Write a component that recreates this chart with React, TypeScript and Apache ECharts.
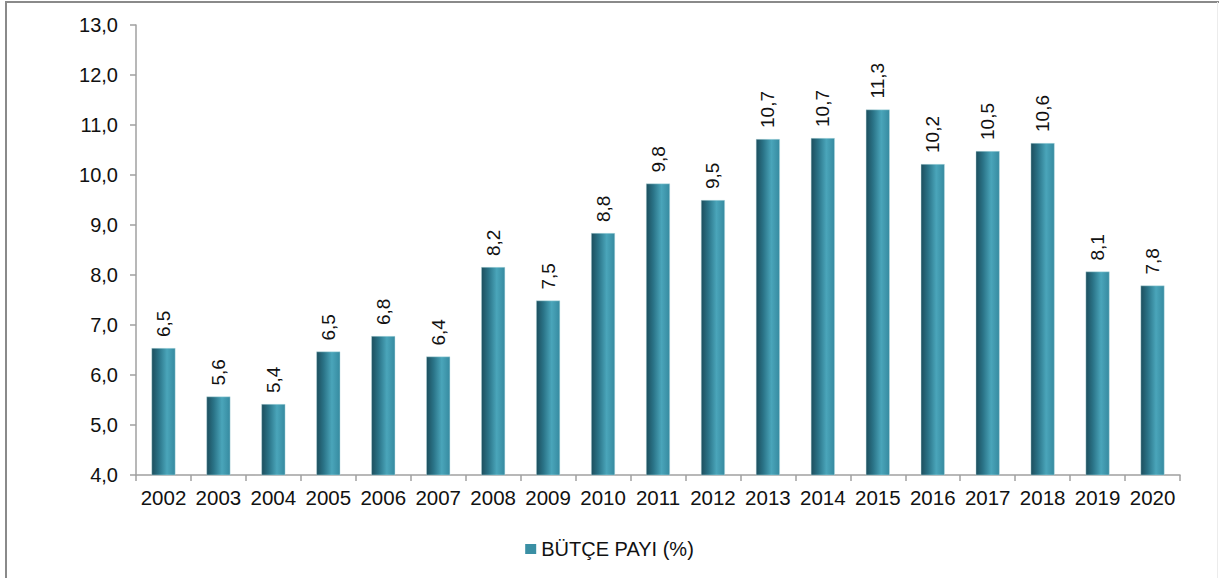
import React, { useEffect, useRef } from "react";
import * as echarts from "echarts";

const years = ["2002","2003","2004","2005","2006","2007","2008","2009","2010","2011","2012","2013","2014","2015","2016","2017","2018","2019","2020"];
const budgetShare = [6.54, 5.57, 5.42, 6.47, 6.78, 6.37, 8.16, 7.49, 8.84, 9.83, 9.5, 10.72, 10.74, 11.31, 10.22, 10.48, 10.64, 8.07, 7.79];
const seriesName = "BÜTÇE PAYI (%)";
const yMin = 4;
const yMax = 13;
const yStep = 1;

const fmt = (v: number) => v.toFixed(1).replace(".", ",");

export default function App() {
  const ref = useRef<HTMLDivElement>(null);
  useEffect(() => {
    if (!ref.current) return;
    const chart = echarts.init(ref.current, undefined, { renderer: "svg" });
    const font = "'Liberation Sans', Arial, sans-serif";
    chart.setOption({
      animation: false,
      backgroundColor: "#ffffff",
      grid: { left: 136, right: 39, top: 25, bottom: 103 },
      legend: {
        data: [{ name: seriesName, itemStyle: { color: "#3a8fa4", borderWidth: 0 } }],
        bottom: 14,
        left: "center",
        itemWidth: 11,
        itemHeight: 10,
        itemGap: 6,
        icon: "rect",
        textStyle: { fontFamily: font, fontSize: 20, color: "#111" },
      },
      xAxis: {
        type: "category",
        data: years,
        axisLine: { lineStyle: { color: "#a0a0a0", width: 1.5 } },
        axisTick: { show: true, length: 6, alignWithLabel: false, lineStyle: { color: "#a0a0a0", width: 1.5 } },
        axisLabel: { color: "#111", fontFamily: font, fontSize: 20.5, margin: 12, interval: 0 },
      },
      yAxis: {
        type: "value",
        min: yMin,
        max: yMax,
        interval: yStep,
        splitLine: { show: false },
        axisLine: { show: true, lineStyle: { color: "#a0a0a0", width: 1.5 } },
        axisTick: { show: true, length: 6, lineStyle: { color: "#a0a0a0", width: 1.5 } },
        axisLabel: { color: "#111", fontFamily: font, fontSize: 20, margin: 18, formatter: (v: number) => fmt(v) },
      },
      series: [
        {
          name: seriesName,
          type: "bar",
          data: budgetShare,
          barWidth: 24,
          itemStyle: {
            color: new echarts.graphic.LinearGradient(0, 0, 1, 0, [
              { offset: 0, color: "#1c4e5d" },
              { offset: 0.3, color: "#2a7387" },
              { offset: 0.65, color: "#4aa5ba" },
              { offset: 1, color: "#368aa0" },
            ]),
            borderColor: "rgba(190,225,232,0.7)",
            borderWidth: 0.6,
          },
          label: {
            show: true,
            position: "top",
            rotate: 90,
            align: "left",
            verticalAlign: "middle",
            distance: 11,
            fontFamily: font,
            fontSize: 19,
            color: "#111",
            formatter: (p: any) => fmt(p.value),
          },
        },
      ],
      color: ["#3a8fa4"],
      graphic: [
        { type: "line", shape: { x1: 5, y1: 2, x2: 1219, y2: 2 }, style: { stroke: "#8a8a8a", lineWidth: 2 } },
        { type: "line", shape: { x1: 6, y1: 1, x2: 6, y2: 578 }, style: { stroke: "#8a8a8a", lineWidth: 2 } },
        { type: "line", shape: { x1: 1217.5, y1: 2, x2: 1217.5, y2: 578 }, style: { stroke: "#ececec", lineWidth: 1 } },
      ],
    });
    return () => chart.dispose();
  }, []);
  return (
    <div
      ref={ref}
      style={{ position: "fixed", left: 0, top: 0, width: 1219, height: 578 }}
    />
  );
}
